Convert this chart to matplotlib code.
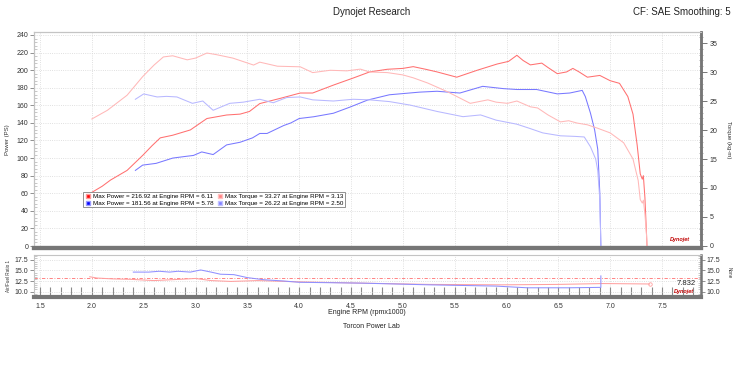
import matplotlib
matplotlib.use('Agg')
import matplotlib.pyplot as plt
from matplotlib.lines import Line2D
from matplotlib.ticker import MultipleLocator

plt.rcParams['font.family'] = ['Liberation Sans', 'DejaVu Sans']

# Run 1 (red) power curve, PS vs engine rpm x1000
rpm_red_power = [2.00, 2.10, 2.18, 2.34, 2.49, 2.58, 2.66, 2.78, 2.95, 3.11, 3.30, 3.43, 3.52, 3.62,
                 3.82, 4.01, 4.13, 4.33, 4.52, 4.68, 4.85, 5.00, 5.10, 5.22, 5.33, 5.52, 5.72, 5.91,
                 6.02, 6.10, 6.16, 6.23, 6.34, 6.40, 6.49, 6.58, 6.64, 6.70, 6.78, 6.90, 7.00, 7.09,
                 7.17, 7.22, 7.26, 7.29, 7.31, 7.32, 7.335, 7.35, 7.355]
red_power = [61, 68, 75, 86, 103, 114, 123, 126, 132, 145, 149, 150, 153, 162,
             168, 174, 174, 183, 191, 198, 201, 202, 204, 201, 198, 192, 200, 207,
             210, 216.9, 211, 206, 208, 203, 196, 198, 202, 198, 192, 194, 188, 185,
             170, 150, 115, 82, 76, 80, 55, 15, 0]

# Run 1 (red) torque curve, kg-m
rpm_red_torque = [2.00, 2.15, 2.34, 2.49, 2.60, 2.69, 2.78, 2.92, 3.00, 3.11, 3.20, 3.36, 3.56, 3.62,
                  3.79, 4.01, 4.13, 4.30, 4.46, 4.59, 4.68, 4.85, 5.00, 5.10, 5.24, 5.43, 5.65, 5.82,
                  5.90, 6.01, 6.10, 6.23, 6.30, 6.40, 6.52, 6.60, 6.68, 6.78, 6.88, 7.00, 7.13, 7.22,
                  7.27, 7.29, 7.31, 7.32, 7.335, 7.35, 7.355]
red_torque = [21.9, 23.4, 26.0, 29.2, 31.2, 32.6, 32.8, 32.1, 32.4, 33.27, 33.0, 32.4, 31.2, 31.7,
              31.0, 30.9, 29.9, 30.3, 30.2, 30.5, 30.0, 29.9, 29.5, 29.0, 28.1, 26.6, 24.6, 25.2,
              24.8, 24.6, 25.0, 24.0, 23.8, 22.6, 21.4, 21.6, 21.2, 20.9, 20.3, 19.5, 17.8, 15.0,
              11.3, 8.0, 7.4, 7.9, 5.5, 2.0, 0]

# Run 2 (blue) power curve
rpm_blue_power = [2.42, 2.49, 2.62, 2.78, 2.91, 2.98, 3.06, 3.17, 3.30, 3.43, 3.55, 3.62, 3.69, 3.85,
                  3.92, 4.00, 4.14, 4.33, 4.49, 4.66, 4.87, 5.16, 5.33, 5.55, 5.77, 5.97, 6.10, 6.29,
                  6.49, 6.61, 6.73, 6.76, 6.81, 6.85, 6.88, 6.90, 6.91]
blue_power = [86, 92, 94, 100, 102, 103, 107, 104, 115, 118, 123, 128, 128, 137,
              140, 145, 147, 151, 158, 166, 172, 175, 176, 174, 181.6, 179, 178, 178,
              173, 174, 177, 170, 151, 132, 110, 60, 0]

# Run 2 (blue) torque curve
rpm_blue_torque = [2.42, 2.50, 2.63, 2.72, 2.82, 2.97, 3.07, 3.17, 3.33, 3.46, 3.62, 3.75, 3.88, 4.01,
                   4.13, 4.33, 4.52, 4.68, 4.87, 5.07, 5.33, 5.58, 5.75, 5.90, 6.10, 6.22, 6.35, 6.52,
                   6.66, 6.75, 6.81, 6.86, 6.88, 6.90, 6.91]
blue_torque = [25.3, 26.22, 25.7, 25.8, 25.7, 24.6, 25.0, 23.4, 24.6, 24.8, 25.3, 24.7, 25.6, 25.7,
               25.2, 25.0, 25.3, 25.2, 24.9, 24.3, 23.2, 22.3, 22.6, 21.7, 21.0, 20.3, 19.5, 19.0,
               18.9, 18.8, 17.1, 15.0, 13.0, 8.0, 0]

# Air/fuel ratio traces
rpm_red_afr = [1.98, 2.05, 2.20, 2.37, 2.60, 2.85, 3.00, 3.15, 3.34, 3.60, 4.00, 4.60, 5.25, 5.96,
               6.50, 6.93, 7.38]
red_afr = [13.5, 13.2, 13.0, 12.9, 12.6, 12.9, 13.1, 12.6, 12.4, 12.6, 12.3, 12.0, 11.7, 11.6,
           11.7, 11.9, 11.8]
rpm_blue_afr = [2.40, 2.55, 2.65, 2.75, 2.83, 2.95, 3.05, 3.15, 3.24, 3.37, 3.50, 3.66, 3.85, 4.00,
                4.60, 5.25, 5.90, 6.20, 6.60, 6.91, 6.91]
blue_afr = [14.6, 14.6, 14.8, 14.6, 14.8, 14.6, 15.1, 14.6, 14.1, 14.0, 13.3, 12.8, 12.5, 12.2,
            12.0, 11.6, 11.3, 10.9, 10.9, 11.0, 13.7]
afr_target = 13.2

legend_labels = ['Max Power = 216.92 at Engine RPM = 6.11',
                 'Max Power = 181.56 at Engine RPM = 5.78',
                 'Max Torque = 33.27 at Engine RPM = 3.13',
                 'Max Torque = 26.22 at Engine RPM = 2.50']

# colours
red_pw_c = '#ff7070'
red_tq_c = '#ffb8b8'
blue_pw_c = '#7878ff'
blue_tq_c = '#b8b8ff'
light_spine = '#c4c4c4'
dark_spine = '#767676'
grid_c = '#d6d6d6'

W, H = 740, 378
fig = plt.figure(figsize=(W / 100, H / 100), dpi=100)

# main power/torque panel
ax1 = fig.add_axes([34 / W, 1 - 247.5 / H, 667 / W, 215.5 / H])
ax2 = ax1.twinx()
# air/fuel panel
ax3 = fig.add_axes([34 / W, 1 - 297 / H, 667 / W, 42 / H])

ax1.plot(rpm_red_power, red_power, color=red_pw_c, lw=0.75)
ax1.plot(rpm_blue_power, blue_power, color=blue_pw_c, lw=0.75)
ax2.plot(rpm_red_torque, red_torque, color=red_tq_c, lw=0.75)
ax2.plot(rpm_blue_torque, blue_torque, color=blue_tq_c, lw=0.75)

ax3.axhline(afr_target, color='#ff7070', lw=0.6, dashes=(4, 2, 1, 2))
ax3.plot(rpm_red_afr, red_afr, color='#ffa0a0', lw=0.75)
ax3.plot(rpm_blue_afr, blue_afr, color='#9090ff', lw=0.75)
ax3.plot(rpm_red_afr[-1], red_afr[-1], marker='o', ms=2.5, mfc='none', mec='#ffa0a0', mew=0.6)

xlim = (1.442, 7.876)
for a in (ax1, ax2, ax3):
    a.set_xlim(*xlim)

ax1.set_ylim(-1.7, 243.4)
ax2.set_ylim(-0.26, 36.9)
ax3.set_ylim(8.73, 18.63)

# ticks
ax1.xaxis.set_major_locator(MultipleLocator(0.5))
ax1.tick_params(axis='x', length=0, labelbottom=False)
ax1.yaxis.set_major_locator(MultipleLocator(20))
ax1.yaxis.set_minor_locator(MultipleLocator(4))
ax1.tick_params(axis='y', which='major', length=3, width=0.6, color='#808080',
                labelsize=5, pad=1, labelcolor='#333333')
ax1.tick_params(axis='y', which='minor', direction='in', length=2, width=0.5, color='#b0b0b0')

ax2.yaxis.set_major_locator(MultipleLocator(5))
ax2.yaxis.set_minor_locator(MultipleLocator(1))
ax2.tick_params(axis='y', which='major', length=4, width=0.6, color='#606060',
                labelsize=5, pad=2, labelcolor='#333333')
ax2.tick_params(axis='y', which='minor', direction='inout', length=3, width=0.5, color='#909090')

ax3.xaxis.set_major_locator(MultipleLocator(0.5))
ax3.xaxis.set_minor_locator(MultipleLocator(0.1))
ax3.xaxis.set_major_formatter(matplotlib.ticker.FormatStrFormatter('%.1f'))
ax3.tick_params(axis='x', which='both', direction='in', length=7, width=0.8, color='#8a8a8a',
                labelsize=5, pad=4, labelcolor='#333333')
ax3.yaxis.set_major_locator(MultipleLocator(2.5))
ax3.yaxis.set_minor_locator(MultipleLocator(0.5))
ax3.yaxis.set_major_formatter(matplotlib.ticker.FormatStrFormatter('%.1f'))
ax3.tick_params(axis='y', which='major', length=3, width=0.6, color='#808080',
                labelsize=5, pad=1, labelcolor='#333333', right=True, labelright=True)
ax3.tick_params(axis='y', which='minor', direction='in', length=2, width=0.5, color='#b0b0b0',
                right=True)

# grids
ax1.grid(True, which='major', color=grid_c, linestyle=':', lw=0.6)
ax3.grid(True, which='major', color=grid_c, linestyle=':', lw=0.6)
ax1.set_axisbelow(True)
ax3.set_axisbelow(True)

# spines: light top/left, thick dark bottom/right
for a in (ax1, ax2, ax3):
    a.spines['top'].set_color(light_spine)
    a.spines['left'].set_color(light_spine)
    a.spines['bottom'].set_color(dark_spine)
    a.spines['bottom'].set_linewidth(3.0)
    a.spines['right'].set_color(dark_spine)
    a.spines['right'].set_linewidth(1.8)
    a.spines['top'].set_linewidth(0.8)
    a.spines['left'].set_linewidth(0.8)

# legend with square markers
handles = [Line2D([], [], ls='none', marker='s', ms=3.5, mfc='#ff0000', mec='#ff9a9a', mew=1.0),
           Line2D([], [], ls='none', marker='s', ms=3.5, mfc='#0000ff', mec='#9a9aff', mew=1.0),
           Line2D([], [], ls='none', marker='s', ms=3.5, mfc='#ff8080', mec='#ffc0c0', mew=1.0),
           Line2D([], [], ls='none', marker='s', ms=3.5, mfc='#8080ff', mec='#c0c0ff', mew=1.0)]
leg = ax1.legend(handles, legend_labels, ncol=2, loc='upper left', bbox_to_anchor=(0.0735, 0.2575),
                 fontsize=4.5, frameon=True, fancybox=False, framealpha=1, edgecolor='#808080',
                 handlelength=1.0, handletextpad=0.3, columnspacing=0.6, borderpad=0.25,
                 labelspacing=0.25, borderaxespad=0)
leg.get_frame().set_linewidth(0.6)

# small Dynojet logos and cursor value
ax1.text(0.983, 0.035, 'Dynojet', transform=ax1.transAxes, ha='right', va='center',
         fontsize=4, color='#c00000', fontweight='bold', style='italic')
ax3.text(0.99, 0.12, 'Dynojet', transform=ax3.transAxes, ha='right', va='center',
         fontsize=4, color='#c00000', fontweight='bold', style='italic')
ax3.text(0.9925, 0.333, '7.832', transform=ax3.transAxes, ha='right', va='center',
         fontsize=5.5, color='#222222')

# titles and labels
fig.text(372 / W, 1 - 12 / H, 'Dynojet Research', ha='center', va='center', fontsize=7, color='#222222')
fig.text(731 / W, 1 - 12 / H, 'CF: SAE Smoothing: 5', ha='right', va='center', fontsize=7, color='#222222')
fig.text(367 / W, 1 - 313 / H, 'Engine RPM (rpmx1000)', ha='center', va='center', fontsize=5, color='#222222')
fig.text(371 / W, 1 - 326 / H, 'Torcon Power Lab', ha='center', va='center', fontsize=5, color='#222222')
fig.text(8 / W, 1 - 140 / H, 'Power (PS)', rotation=90, ha='center', va='center', fontsize=4.3, color='#333333')
fig.text(729 / W, 1 - 140 / H, 'Torque (kg-m)', rotation=270, ha='center', va='center', fontsize=4.3, color='#333333')
fig.text(8 / W, 1 - 276 / H, 'Air/Fuel Ratio 1', rotation=90, ha='center', va='center', fontsize=3.3, color='#333333')
fig.text(729 / W, 1 - 273 / H, 'None', rotation=270, ha='center', va='center', fontsize=3.3, color='#333333')

fig.savefig('out.png', dpi=100)
